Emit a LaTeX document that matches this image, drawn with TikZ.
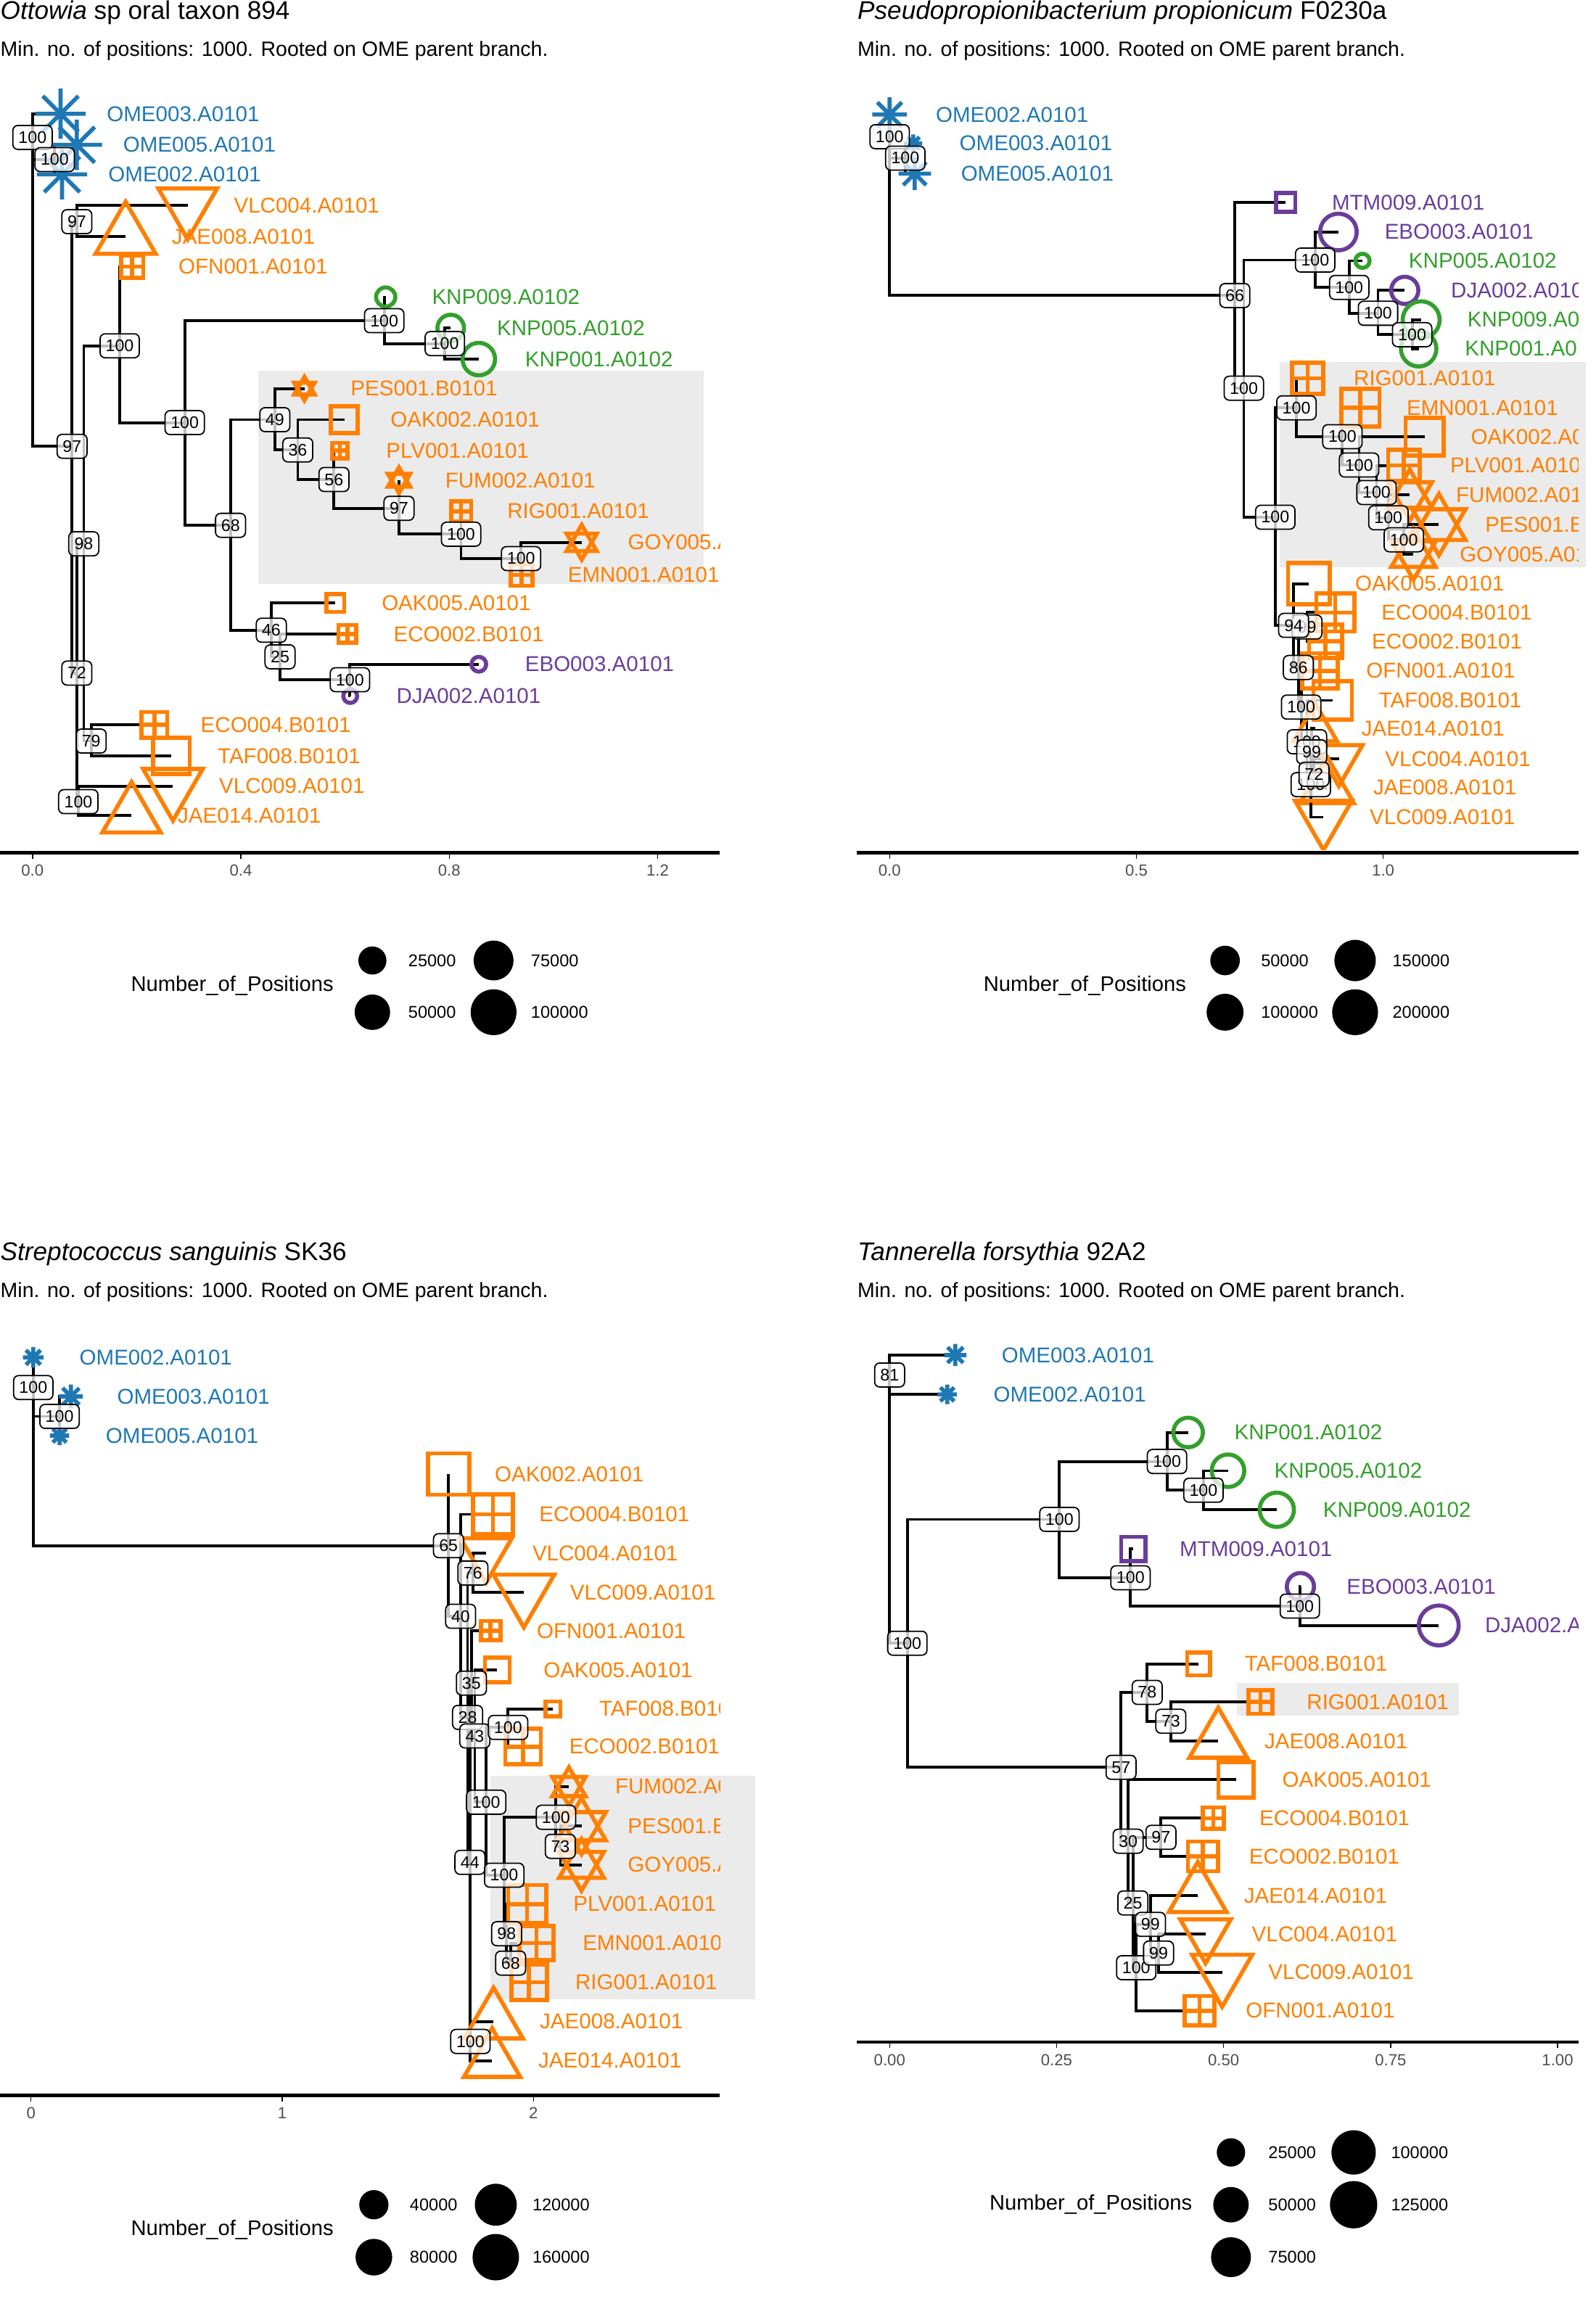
\documentclass[tikz,border=0pt]{standalone}
\usepackage{fontspec}
\setmainfont{Liberation Sans}
\usetikzlibrary{positioning}

\definecolor{omeblue}{HTML}{1F78B4}
\definecolor{siteorange}{HTML}{FF7F00}
\definecolor{knpgreen}{HTML}{33A02C}
\definecolor{ebopurple}{HTML}{6A3D9A}
\definecolor{cladegray}{HTML}{EBEBEB}
\definecolor{axisgray}{HTML}{4D4D4D}

\tikzset{
  branch/.style={line width=1.1pt},
  sym/.style={line width=1.6pt},
  bs/.style={draw, rounded corners=2pt, fill=white, fill opacity=0.75, text opacity=1,
    line width=0.5pt, inner xsep=2.2pt, inner ysep=0pt, minimum height=9.4pt,
    font=\fontsize{6.6}{6.6}\selectfont},
  tiplab/.style={inner sep=0pt, font=\fontsize{8.4}{10}\selectfont},
  ttl/.style={anchor=base west, inner sep=0pt, font=\fontsize{10}{12}\selectfont},
  subttl/.style={anchor=base west, inner sep=0pt, font=\fontsize{8.1}{10}\selectfont},
  axisline/.style={line width=1.3pt},
  ticklab/.style={inner sep=0pt, text=axisgray, font=\fontsize{6.3}{7}\selectfont},
  legtitle/.style={anchor=east, inner sep=0pt, font=\fontsize{8.3}{9}\selectfont},
  legnum/.style={anchor=west, inner sep=0pt, font=\fontsize{6.7}{8}\selectfont}
}

% tip symbols: #1 coordinate, #2 size, #3 colour
\newcommand{\shpast}[3]{\draw[sym,#3] (#1) ++(-#2,0) -- ++(2*#2,0) (#1) ++(0,-#2) -- ++(0,2*#2)
  (#1) ++(-0.707*#2,-0.707*#2) -- ++(1.414*#2,1.414*#2) (#1) ++(-0.707*#2,0.707*#2) -- ++(1.414*#2,-1.414*#2);}
\newcommand{\shpup}[3]{\draw[sym,#3] (#1) ++(0,-#2) -- ++(0.866*#2,1.5*#2) -- ++(-1.732*#2,0) -- cycle;}
\newcommand{\shpdown}[3]{\draw[sym,#3] (#1) ++(0,#2) -- ++(0.866*#2,-1.5*#2) -- ++(-1.732*#2,0) -- cycle;}
\newcommand{\shpdavid}[3]{\shpup{#1}{#2}{#3}\shpdown{#1}{#2}{#3}}
\newcommand{\shpsq}[3]{\draw[sym,#3] (#1) ++(-#2,-#2) rectangle ++(2*#2,2*#2);}
\newcommand{\shpplus}[3]{\draw[sym,#3] (#1) ++(-#2,-#2) rectangle ++(2*#2,2*#2)
  (#1) ++(-#2,0) -- ++(2*#2,0) (#1) ++(0,-#2) -- ++(0,2*#2);}
\newcommand{\shpcirc}[3]{\draw[sym,#3] (#1) circle[radius=#2];}

% tip: #1 parent, #2 name, #3 x, #4 y, #5 symbol, #6 size, #7 colour, #8 label
\newcommand{\treetip}[8]{%
  \coordinate (#2) at (#3,#4);
  \draw[branch] (#1) |- (#2);
  #5{#2}{#6}{#7}
  \node[tiplab,text=#7,right=0.631cm of #2] (#2-lab) {#8};}

\begin{document}
\begin{tikzpicture}[x=0.02036cm, y=-0.02036cm]
\useasboundingbox (0,0) rectangle (1080,1568);

% ---------------- Ottowia ----------------
\node[ttl] (a-title) at (0,13) {\itshape Ottowia\upshape{} sp oral taxon 894};
\node[subttl] (a-sub) at (0,38) {Min. no. of positions: 1000. Rooted on OME parent branch.};
\fill[cladegray] (175,251) rectangle (476,395);
\begin{scope}
\clip (0,45) rectangle (487,575);
\coordinate (a0) at (22,197.5);
\coordinate (a1) at (22,93);
\draw[branch] (a0) |- (a1);
\coordinate (a2) at (37,108);
\draw[branch] (a1) |- (a2);
\treetip{a1}{a-OME003}{41}{77}{\shpast}{17}{omeblue}{OME003.A0101}
\treetip{a2}{a-OME005}{52}{98}{\shpast}{17}{omeblue}{OME005.A0101}
\treetip{a2}{a-OME002}{42}{118}{\shpast}{17}{omeblue}{OME002.A0101}
\coordinate (a3) at (48.8,302);
\draw[branch] (a0) |- (a3);
\coordinate (a4) at (52,150);
\draw[branch] (a3) |- (a4);
\treetip{a4}{a-VLC004}{127}{139}{\shpdown}{23}{siteorange}{VLC004.A0101}
\treetip{a4}{a-JAE008}{85}{160}{\shpup}{23.5}{siteorange}{JAE008.A0101}
\coordinate (a5) at (52,455.5);
\draw[branch] (a3) |- (a5);
\coordinate (a6) at (56.7,368);
\draw[branch] (a5) |- (a6);
\coordinate (a7) at (81,234);
\draw[branch] (a6) |- (a7);
\treetip{a7}{a-OFN001}{89.5}{180.5}{\shpplus}{7.5}{siteorange}{OFN001.A0101}
\coordinate (a10) at (125,286);
\draw[branch] (a7) |- (a10);
\coordinate (a11) at (260,217);
\draw[branch] (a10) |- (a11);
\treetip{a11}{a-KNP009}{261}{201}{\shpcirc}{6.5}{knpgreen}{KNP009.A0102}
\coordinate (a12) at (301,232.5);
\draw[branch] (a11) |- (a12);
\treetip{a12}{a-KNP005}{305}{222}{\shpcirc}{9}{knpgreen}{KNP005.A0102}
\treetip{a12}{a-KNP001}{324}{243}{\shpcirc}{11}{knpgreen}{KNP001.A0102}
\coordinate (a13) at (156,355.5);
\draw[branch] (a10) |- (a13);
\coordinate (a14) at (186,284);
\draw[branch] (a13) |- (a14);
\treetip{a14}{a-PES001}{206}{263}{\shpdavid}{8}{siteorange}{PES001.B0101}
\coordinate (a15) at (201.5,304.5);
\draw[branch] (a14) |- (a15);
\treetip{a15}{a-OAK002}{233}{284}{\shpsq}{9}{siteorange}{OAK002.A0101}
\coordinate (a16) at (226,324.5);
\draw[branch] (a15) |- (a16);
\treetip{a16}{a-PLV001}{230}{305}{\shpplus}{5.3}{siteorange}{PLV001.A0101}
\coordinate (a17) at (270,344);
\draw[branch] (a16) |- (a17);
\treetip{a17}{a-FUM002}{270}{325}{\shpdavid}{8.7}{siteorange}{FUM002.A0101}
\coordinate (a18) at (312,361.5);
\draw[branch] (a17) |- (a18);
\treetip{a18}{a-RIG001}{312}{346}{\shpplus}{6.8}{siteorange}{RIG001.A0101}
\coordinate (a19) at (352.6,378);
\draw[branch] (a18) |- (a19);
\treetip{a19}{a-GOY005}{393.6}{367}{\shpdavid}{11.8}{siteorange}{GOY005.A0101}
\treetip{a19}{a-EMN001}{353}{389}{\shpplus}{7.4}{siteorange}{EMN001.A0101}
\coordinate (a20) at (183.6,426.5);
\draw[branch] (a13) |- (a20);
\treetip{a20}{a-OAK005}{227}{408}{\shpsq}{6}{siteorange}{OAK005.A0101}
\coordinate (a21) at (189.5,444.5);
\draw[branch] (a20) |- (a21);
\treetip{a21}{a-ECO002}{235}{429}{\shpplus}{6}{siteorange}{ECO002.B0101}
\coordinate (a22) at (236.8,460);
\draw[branch] (a21) |- (a22);
\treetip{a22}{a-EBO003}{324}{449.5}{\shpcirc}{5}{ebopurple}{EBO003.A0101}
\treetip{a22}{a-DJA002}{237}{471}{\shpcirc}{4.7}{ebopurple}{DJA002.A0101}
\coordinate (a8) at (61.7,501.5);
\draw[branch] (a6) |- (a8);
\treetip{a8}{a-ECO004}{104.5}{490.5}{\shpplus}{8.7}{siteorange}{ECO004.B0101}
\treetip{a8}{a-TAF008}{116}{511.5}{\shpsq}{12.3}{siteorange}{TAF008.B0101}
\coordinate (a9) at (53,542.5);
\draw[branch] (a5) |- (a9);
\treetip{a9}{a-VLC009}{117}{532}{\shpdown}{23.3}{siteorange}{VLC009.A0101}
\treetip{a9}{a-JAE014}{89}{552}{\shpup}{22.8}{siteorange}{JAE014.A0101}
\end{scope}
\node[bs] (a1-bs) at (a1) {100};
\node[bs] (a2-bs) at (a2) {100};
\node[bs] (a4-bs) at (a4) {97};
\node[bs] (a7-bs) at (a7) {100};
\node[bs] (a10-bs) at (a10) {100};
\node[bs] (a3-bs) at (a3) {97};
\node[bs] (a6-bs) at (a6) {98};
\node[bs] (a5-bs) at (a5) {72};
\node[bs] (a8-bs) at (a8) {79};
\node[bs] (a9-bs) at (a9) {100};
\node[bs] (a11-bs) at (a11) {100};
\node[bs] (a12-bs) at (a12) {100};
\node[bs] (a14-bs) at (a14) {49};
\node[bs] (a15-bs) at (a15) {36};
\node[bs] (a16-bs) at (a16) {56};
\node[bs] (a17-bs) at (a17) {97};
\node[bs] (a18-bs) at (a18) {100};
\node[bs] (a19-bs) at (a19) {100};
\node[bs] (a13-bs) at (a13) {68};
\node[bs] (a20-bs) at (a20) {46};
\node[bs] (a21-bs) at (a21) {25};
\node[bs] (a22-bs) at (a22) {100};
\draw[axisline] (0,577) -- (487,577);
\draw (22,577) -- (22,581);
\draw (163,577) -- (163,581);
\draw (304,577) -- (304,581);
\draw (445,577) -- (445,581);
\node[ticklab] (a-t1) at (22,589) {0.0};
\node[ticklab] (a-t2) at (163,589) {0.4};
\node[ticklab] (a-t3) at (304,589) {0.8};
\node[ticklab] (a-t4) at (445,589) {1.2};
\node[legtitle] (a-leg) at (226,667) {Number\_of\_Positions};
\fill (252,650) circle[radius=9.5];
\node[legnum] (a-leg1) at (276,650) {25000};
\fill (252,685) circle[radius=12];
\node[legnum] (a-leg2) at (276,685) {50000};
\fill (334,650) circle[radius=13.5];
\node[legnum] (a-leg3) at (359,650) {75000};
\fill (334,685) circle[radius=15.5];
\node[legnum] (a-leg4) at (359,685) {100000};

% ---------------- Pseudopropionibacterium ----------------
\node[ttl] (b-title) at (580,13) {\itshape Pseudopropionibacterium propionicum\upshape{} F0230a};
\node[subttl] (b-sub) at (580,38) {Min. no. of positions: 1000. Rooted on OME parent branch.};
\fill[cladegray] (866,245) rectangle (1073,384);
\begin{scope}
\clip (580,45) rectangle (1068,575);
\coordinate (b0) at (602,146);
\coordinate (b1) at (602,92.5);
\draw[branch] (b0) |- (b1);
\treetip{b1}{b-OME002}{602}{77.5}{\shpast}{11.7}{omeblue}{OME002.A0101}
\coordinate (b2) at (612.6,107);
\draw[branch] (b1) |- (b2);
\treetip{b2}{b-OME003}{618}{97}{\shpast}{6}{omeblue}{OME003.A0101}
\treetip{b2}{b-OME005}{619}{117.5}{\shpast}{11}{omeblue}{OME005.A0101}
\coordinate (b3) at (835.6,200);
\draw[branch] (b0) |- (b3);
\treetip{b3}{b-MTM009}{870}{137}{\shpsq}{6.5}{ebopurple}{MTM009.A0101}
\coordinate (b4) at (841.7,262.7);
\draw[branch] (b3) |- (b4);
\coordinate (b5) at (890,176);
\draw[branch] (b4) |- (b5);
\treetip{b5}{b-EBO003}{905.7}{157}{\shpcirc}{12.4}{ebopurple}{EBO003.A0101}
\coordinate (b6) at (913,194.5);
\draw[branch] (b5) |- (b6);
\treetip{b6}{b-KNP005}{922}{176.5}{\shpcirc}{4.8}{knpgreen}{KNP005.A0102}
\coordinate (b7) at (932.5,212);
\draw[branch] (b6) |- (b7);
\treetip{b7}{b-DJA002}{950.6}{196.5}{\shpcirc}{9.2}{ebopurple}{DJA002.A0101}
\coordinate (b8) at (955.6,226.5);
\draw[branch] (b7) |- (b8);
\treetip{b8}{b-KNP009}{961.7}{216.4}{\shpcirc}{12.5}{knpgreen}{KNP009.A0102}
\treetip{b8}{b-KNP001}{960}{236}{\shpcirc}{12}{knpgreen}{KNP001.A0102}
\coordinate (b9) at (863,350);
\draw[branch] (b4) |- (b9);
\coordinate (b10) at (877.3,276);
\draw[branch] (b9) |- (b10);
\treetip{b10}{b-RIG001}{884.8}{256}{\shpplus}{10.6}{siteorange}{RIG001.A0101}
\coordinate (b11) at (908.4,295.5);
\draw[branch] (b10) |- (b11);
\treetip{b11}{b-EMN001}{920.6}{276}{\shpplus}{12.8}{siteorange}{EMN001.A0101}
\coordinate (b12) at (919.7,314.7);
\draw[branch] (b11) |- (b12);
\treetip{b12}{b-OAK002}{964}{295.6}{\shpsq}{12.8}{siteorange}{OAK002.A0101}
\coordinate (b13) at (931.5,333.3);
\draw[branch] (b12) |- (b13);
\treetip{b13}{b-PLV001}{950}{315}{\shpplus}{10.6}{siteorange}{PLV001.A0101}
\coordinate (b14) at (939.5,350.4);
\draw[branch] (b13) |- (b14);
\treetip{b14}{b-FUM002}{954}{335}{\shpdavid}{17.3}{siteorange}{FUM002.A0101}
\coordinate (b15) at (950,365.3);
\draw[branch] (b14) |- (b15);
\treetip{b15}{b-PES001}{973.7}{355}{\shpdavid}{20.8}{siteorange}{PES001.B0101}
\treetip{b15}{b-GOY005}{956.5}{375}{\shpdavid}{17.3}{siteorange}{GOY005.A0101}
\coordinate (b16) at (875.4,423.2);
\draw[branch] (b9) |- (b16);
\treetip{b16}{b-OAK005}{885.7}{395}{\shpsq}{14}{siteorange}{OAK005.A0101}
\coordinate (b17) at (878.6,451.7);
\draw[branch] (b16) |- (b17);
\coordinate (b18) at (884.4,424.3);
\draw[branch] (b17) |- (b18);
\treetip{b18}{b-ECO004}{903.6}{414.5}{\shpplus}{12.8}{siteorange}{ECO004.B0101}
\treetip{b18}{b-ECO002}{897}{434}{\shpplus}{11.2}{siteorange}{ECO002.B0101}
\coordinate (b19) at (880.5,478.5);
\draw[branch] (b17) |- (b19);
\treetip{b19}{b-OFN001}{893.2}{454}{\shpplus}{12}{siteorange}{OFN001.A0101}
\coordinate (b20) at (884.4,502);
\draw[branch] (b19) |- (b20);
\treetip{b20}{b-TAF008}{901.8}{474}{\shpsq}{13}{siteorange}{TAF008.B0101}
\coordinate (b21) at (887,531);
\draw[branch] (b20) |- (b21);
\coordinate (b22) at (887.6,508.8);
\draw[branch] (b21) |- (b22);
\treetip{b22}{b-JAE014}{890}{493}{\shpup}{17}{siteorange}{JAE014.A0101}
\coordinate (b23) at (889.2,524);
\draw[branch] (b22) |- (b23);
\treetip{b23}{b-VLC004}{906}{513.5}{\shpdown}{18.5}{siteorange}{VLC004.A0101}
\treetip{b23}{b-JAE008}{898}{533}{\shpup}{21}{siteorange}{JAE008.A0101}
\treetip{b21}{b-VLC009}{895.6}{553}{\shpdown}{22.2}{siteorange}{VLC009.A0101}
\end{scope}
\node[bs] (b1-bs) at (b1) {100};
\node[bs] (b2-bs) at (b2) {100};
\node[bs] (b3-bs) at (b3) {66};
\node[bs] (b5-bs) at (b5) {100};
\node[bs] (b6-bs) at (b6) {100};
\node[bs] (b7-bs) at (b7) {100};
\node[bs] (b8-bs) at (b8) {100};
\node[bs] (b4-bs) at (b4) {100};
\node[bs] (b10-bs) at (b10) {100};
\node[bs] (b11-bs) at (b11) {100};
\node[bs] (b12-bs) at (b12) {100};
\node[bs] (b13-bs) at (b13) {100};
\node[bs] (b14-bs) at (b14) {100};
\node[bs] (b15-bs) at (b15) {100};
\node[bs] (b9-bs) at (b9) {100};
\node[bs] (b18-bs) at (b18) {99};
\node[bs] (b20-bs) at (b20) {100};
\node[bs] (b21-bs) at (b21) {100};
\node[bs] (b16-bs) at (b16) {94};
\node[bs] (b17-bs) at (b17) {86};
\node[bs] (b19-bs) at (b19) {100};
\node[bs] (b22-bs) at (b22) {99};
\node[bs] (b23-bs) at (b23) {72};
\draw[axisline] (580,577) -- (1068,577);
\draw (602,577) -- (602,581);
\draw (769,577) -- (769,581);
\draw (936,577) -- (936,581);
\node[ticklab] (b-t1) at (602,589) {0.0};
\node[ticklab] (b-t2) at (769,589) {0.5};
\node[ticklab] (b-t3) at (936,589) {1.0};
\node[legtitle] (b-leg) at (803,667) {Number\_of\_Positions};
\fill (829,650) circle[radius=10];
\node[legnum] (b-leg1) at (853,650) {50000};
\fill (829,685) circle[radius=12.5];
\node[legnum] (b-leg2) at (853,685) {100000};
\fill (917,650) circle[radius=14];
\node[legnum] (b-leg3) at (942,650) {150000};
\fill (917,685) circle[radius=15.5];
\node[legnum] (b-leg4) at (942,685) {200000};

% ---------------- Streptococcus ----------------
\node[ttl] (c-title) at (0,853) {\itshape Streptococcus sanguinis\upshape{} SK36};
\node[subttl] (c-sub) at (0,878) {Min. no. of positions: 1000. Rooted on OME parent branch.};
\fill[cladegray] (332,1202) rectangle (511,1353);
\begin{scope}
\clip (0,890) rectangle (487,1416);
\coordinate (c0) at (22.5,992.5);
\coordinate (c1) at (22.5,939);
\draw[branch] (c0) |- (c1);
\treetip{c1}{c-OME002}{22.5}{918.6}{\shpast}{7}{omeblue}{OME002.A0101}
\coordinate (c2) at (40.3,958.5);
\draw[branch] (c1) |- (c2);
\treetip{c2}{c-OME003}{48}{945}{\shpast}{8}{omeblue}{OME003.A0101}
\treetip{c2}{c-OME005}{40.3}{971.5}{\shpast}{6.5}{omeblue}{OME005.A0101}
\coordinate (c3) at (303.5,1046);
\draw[branch] (c0) |- (c3);
\treetip{c3}{c-OAK002}{303.5}{997.6}{\shpsq}{14}{siteorange}{OAK002.A0101}
\coordinate (c4) at (311.7,1093.8);
\draw[branch] (c3) |- (c4);
\treetip{c4}{c-ECO004}{333.6}{1024.8}{\shpplus}{13.5}{siteorange}{ECO004.B0101}
\coordinate (c5) at (316.4,1162.2);
\draw[branch] (c4) |- (c5);
\coordinate (c6) at (320,1064.5);
\draw[branch] (c5) |- (c6);
\treetip{c6}{c-VLC004}{329}{1051}{\shpdown}{20}{siteorange}{VLC004.A0101}
\treetip{c6}{c-VLC009}{354.5}{1077.5}{\shpdown}{23.8}{siteorange}{VLC009.A0101}
\coordinate (c7) at (318,1260.3);
\draw[branch] (c5) |- (c7);
\coordinate (c8) at (319,1139);
\draw[branch] (c7) |- (c8);
\treetip{c8}{c-OFN001}{332}{1103.5}{\shpplus}{6.6}{siteorange}{OFN001.A0101}
\coordinate (c9) at (321.3,1174.8);
\draw[branch] (c8) |- (c9);
\treetip{c9}{c-OAK005}{336.5}{1130}{\shpsq}{8.3}{siteorange}{OAK005.A0101}
\coordinate (c10) at (329,1219.6);
\draw[branch] (c9) |- (c10);
\coordinate (c11) at (343.8,1169);
\draw[branch] (c10) |- (c11);
\treetip{c11}{c-TAF008}{374.2}{1156.5}{\shpsq}{5}{siteorange}{TAF008.B0101}
\treetip{c11}{c-ECO002}{354}{1182}{\shpplus}{12}{siteorange}{ECO002.B0101}
\coordinate (c12) at (341.2,1269);
\draw[branch] (c10) |- (c12);
\coordinate (c13) at (376.2,1229.8);
\draw[branch] (c12) |- (c13);
\treetip{c13}{c-FUM002}{385}{1209}{\shpdavid}{13}{siteorange}{FUM002.A0101}
\coordinate (c14) at (379.2,1249.5);
\draw[branch] (c13) |- (c14);
\treetip{c14}{c-PES001}{393.5}{1235.8}{\shpdavid}{19}{siteorange}{PES001.B0101}
\treetip{c14}{c-GOY005}{393.5}{1262}{\shpdavid}{17.5}{siteorange}{GOY005.A0101}
\coordinate (c15) at (342.8,1308.6);
\draw[branch] (c12) |- (c15);
\treetip{c15}{c-PLV001}{356.7}{1288.5}{\shpplus}{12.9}{siteorange}{PLV001.A0101}
\coordinate (c16) at (345.5,1328.5);
\draw[branch] (c15) |- (c16);
\treetip{c16}{c-EMN001}{363}{1315}{\shpplus}{11.6}{siteorange}{EMN001.A0101}
\treetip{c16}{c-RIG001}{358}{1341.5}{\shpplus}{12}{siteorange}{RIG001.A0101}
\coordinate (c17) at (318.3,1381.5);
\draw[branch] (c7) |- (c17);
\treetip{c17}{c-JAE008}{334}{1368}{\shpup}{22.9}{siteorange}{JAE008.A0101}
\treetip{c17}{c-JAE014}{333}{1394.5}{\shpup}{22}{siteorange}{JAE014.A0101}
\end{scope}
\node[bs] (c1-bs) at (c1) {100};
\node[bs] (c2-bs) at (c2) {100};
\node[bs] (c3-bs) at (c3) {65};
\node[bs] (c6-bs) at (c6) {76};
\node[bs] (c4-bs) at (c4) {40};
\node[bs] (c8-bs) at (c8) {35};
\node[bs] (c5-bs) at (c5) {28};
\node[bs] (c9-bs) at (c9) {43};
\node[bs] (c11-bs) at (c11) {100};
\node[bs] (c10-bs) at (c10) {100};
\node[bs] (c13-bs) at (c13) {100};
\node[bs] (c14-bs) at (c14) {73};
\node[bs] (c7-bs) at (c7) {44};
\node[bs] (c12-bs) at (c12) {100};
\node[bs] (c15-bs) at (c15) {98};
\node[bs] (c16-bs) at (c16) {68};
\node[bs] (c17-bs) at (c17) {100};
\draw[axisline] (0,1418) -- (487,1418);
\draw (21,1418) -- (21,1422);
\draw (191,1418) -- (191,1422);
\draw (361,1418) -- (361,1422);
\node[ticklab] (c-t1) at (21,1430) {0};
\node[ticklab] (c-t2) at (191,1430) {1};
\node[ticklab] (c-t3) at (361,1430) {2};
\node[legtitle] (c-leg) at (226,1509) {Number\_of\_Positions};
\fill (253,1492) circle[radius=9.9];
\node[legnum] (c-leg1) at (277,1492) {40000};
\fill (253,1527.5) circle[radius=12.4];
\node[legnum] (c-leg2) at (277,1527.5) {80000};
\fill (335.5,1492) circle[radius=14.2];
\node[legnum] (c-leg3) at (360,1492) {120000};
\fill (335.5,1527.5) circle[radius=15.7];
\node[legnum] (c-leg4) at (360,1527.5) {160000};

% ---------------- Tannerella ----------------
\node[ttl] (d-title) at (580,853) {\itshape Tannerella forsythia\upshape{} 92A2};
\node[subttl] (d-sub) at (580,878) {Min. no. of positions: 1000. Rooted on OME parent branch.};
\fill[cladegray] (837,1139) rectangle (987,1161);
\begin{scope}
\clip (580,890) rectangle (1068,1380);
\coordinate (d0) at (602,1021.2);
\coordinate (d1) at (602,930.5);
\draw[branch] (d0) |- (d1);
\treetip{d1}{d-OME003}{646.5}{917}{\shpast}{7.5}{omeblue}{OME003.A0101}
\treetip{d1}{d-OME002}{641}{943.6}{\shpast}{6.6}{omeblue}{OME002.A0101}
\coordinate (d2) at (614,1112);
\draw[branch] (d0) |- (d2);
\coordinate (d3) at (716.9,1028.2);
\draw[branch] (d2) |- (d3);
\coordinate (d4) at (789.7,989);
\draw[branch] (d3) |- (d4);
\treetip{d4}{d-KNP001}{804}{969.4}{\shpcirc}{10}{knpgreen}{KNP001.A0102}
\coordinate (d5) at (814.4,1008.5);
\draw[branch] (d4) |- (d5);
\treetip{d5}{d-KNP005}{831}{995.3}{\shpcirc}{11}{knpgreen}{KNP005.A0102}
\treetip{d5}{d-KNP009}{864}{1021.7}{\shpcirc}{11.6}{knpgreen}{KNP009.A0102}
\coordinate (d6) at (765,1067.7);
\draw[branch] (d3) |- (d6);
\treetip{d6}{d-MTM009}{767}{1048.3}{\shpsq}{8.3}{ebopurple}{MTM009.A0101}
\coordinate (d7) at (879.6,1086.9);
\draw[branch] (d6) |- (d7);
\treetip{d7}{d-EBO003}{880}{1073.7}{\shpcirc}{9.2}{ebopurple}{EBO003.A0101}
\treetip{d7}{d-DJA002}{973.6}{1100}{\shpcirc}{13.5}{ebopurple}{DJA002.A0101}
\coordinate (d8) at (758.6,1196);
\draw[branch] (d2) |- (d8);
\coordinate (d9) at (776.3,1145.3);
\draw[branch] (d8) |- (d9);
\treetip{d9}{d-TAF008}{811}{1126}{\shpsq}{7.7}{siteorange}{TAF008.B0101}
\coordinate (d10) at (792.3,1164.8);
\draw[branch] (d9) |- (d10);
\treetip{d10}{d-RIG001}{853}{1151.8}{\shpplus}{8}{siteorange}{RIG001.A0101}
\treetip{d10}{d-JAE008}{824.4}{1178.2}{\shpup}{22.6}{siteorange}{JAE008.A0101}
\coordinate (d11) at (763.4,1246);
\draw[branch] (d8) |- (d11);
\treetip{d11}{d-OAK005}{836.4}{1204.4}{\shpsq}{12}{siteorange}{OAK005.A0101}
\coordinate (d12) at (766.6,1287.8);
\draw[branch] (d11) |- (d12);
\coordinate (d13) at (785.6,1243.4);
\draw[branch] (d12) |- (d13);
\treetip{d13}{d-ECO004}{821}{1230.4}{\shpplus}{7.2}{siteorange}{ECO004.B0101}
\treetip{d13}{d-ECO002}{814}{1256.2}{\shpplus}{10.1}{siteorange}{ECO002.B0101}
\coordinate (d14) at (768.9,1331.6);
\draw[branch] (d12) |- (d14);
\coordinate (d15) at (778.5,1302.3);
\draw[branch] (d14) |- (d15);
\treetip{d15}{d-JAE014}{810.5}{1282.7}{\shpup}{22.6}{siteorange}{JAE014.A0101}
\coordinate (d16) at (784,1321.7);
\draw[branch] (d15) |- (d16);
\treetip{d16}{d-VLC004}{815.8}{1308.8}{\shpdown}{19.8}{siteorange}{VLC004.A0101}
\treetip{d16}{d-VLC009}{827}{1334.6}{\shpdown}{23.5}{siteorange}{VLC009.A0101}
\treetip{d14}{d-OFN001}{811.7}{1360.7}{\shpplus}{10}{siteorange}{OFN001.A0101}
\end{scope}
\node[bs] (d1-bs) at (d1) {81};
\node[bs] (d2-bs) at (d2) {100};
\node[bs] (d3-bs) at (d3) {100};
\node[bs] (d4-bs) at (d4) {100};
\node[bs] (d5-bs) at (d5) {100};
\node[bs] (d6-bs) at (d6) {100};
\node[bs] (d7-bs) at (d7) {100};
\node[bs] (d8-bs) at (d8) {57};
\node[bs] (d9-bs) at (d9) {78};
\node[bs] (d10-bs) at (d10) {73};
\node[bs] (d11-bs) at (d11) {30};
\node[bs] (d13-bs) at (d13) {97};
\node[bs] (d12-bs) at (d12) {25};
\node[bs] (d15-bs) at (d15) {99};
\node[bs] (d14-bs) at (d14) {100};
\node[bs] (d16-bs) at (d16) {99};
\draw[axisline] (580,1382) -- (1068,1382);
\draw (602,1382) -- (602,1386);
\draw (715,1382) -- (715,1386);
\draw (828,1382) -- (828,1386);
\draw (941,1382) -- (941,1386);
\draw (1054,1382) -- (1054,1386);
\node[ticklab] (d-t1) at (602,1394) {0.00};
\node[ticklab] (d-t2) at (715,1394) {0.25};
\node[ticklab] (d-t3) at (828,1394) {0.50};
\node[ticklab] (d-t4) at (941,1394) {0.75};
\node[ticklab] (d-t5) at (1054,1394) {1.00};
\node[legtitle] (d-leg) at (807,1492) {Number\_of\_Positions};
\fill (833,1456.6) circle[radius=9.6];
\node[legnum] (d-leg1) at (858,1456.6) {25000};
\fill (833,1492) circle[radius=12];
\node[legnum] (d-leg2) at (858,1492) {50000};
\fill (833,1527.5) circle[radius=13.5];
\node[legnum] (d-leg3) at (858,1527.5) {75000};
\fill (916,1456.6) circle[radius=15];
\node[legnum] (d-leg4) at (941,1456.6) {100000};
\fill (916,1492) circle[radius=16];
\node[legnum] (d-leg5) at (941,1492) {125000};
\end{tikzpicture}
\end{document}
